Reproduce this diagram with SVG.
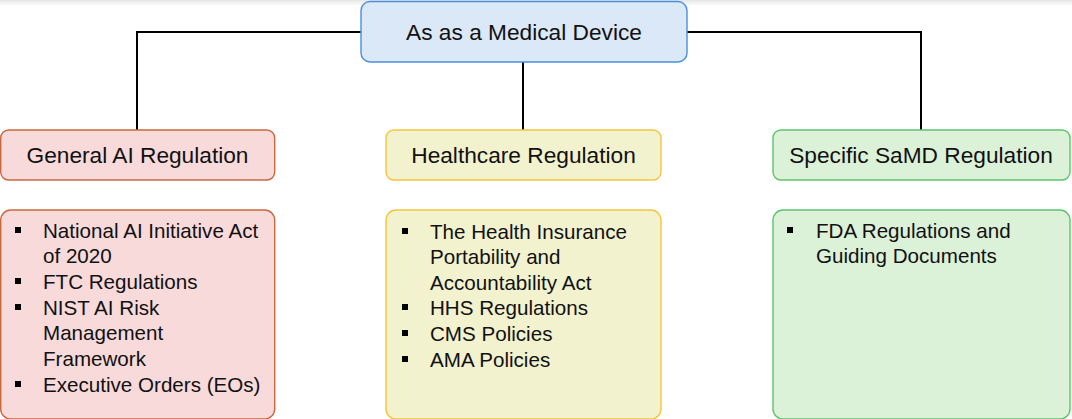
<svg xmlns="http://www.w3.org/2000/svg" width="1072" height="419" viewBox="0 0 1072 419">
<defs>
<linearGradient id="shade" x1="0" y1="0" x2="0" y2="1">
<stop offset="0" stop-color="#e6e6e6"/>
<stop offset="1" stop-color="#ffffff"/>
</linearGradient>
</defs>
<style>
text{font-family:"Liberation Sans",Arial,sans-serif;fill:#111;}
.hd{font-size:22.7px;text-anchor:middle;}
.it{font-size:20.6px;}
.blue{fill:#dae8f7;stroke:#4a8fdc;stroke-width:1.4;}
.red{fill:#f8dadb;stroke:#c9683e;stroke-width:1.4;}
.yel{fill:#f2f2cf;stroke:#f4c53e;stroke-width:1.4;}
.grn{fill:#dcf2d8;stroke:#5cc46c;stroke-width:1.4;}
.conn{fill:none;stroke:#000;stroke-width:2;}
.bul{fill:#000;}
</style>
<rect x="0" y="0" width="1072" height="419" fill="#fff"/>
<rect x="0" y="0" width="1072" height="6" fill="url(#shade)"/>
<g id="connectors">
<path class="conn" d="M361 32 H137 V130"/>
<path class="conn" d="M687 32 H921 V130"/>
<path class="conn" d="M523 62 V130"/>
</g>
<g id="root">
<rect class="blue" x="361" y="1.5" width="326" height="60.5" rx="9"/>
<text class="hd" x="524" y="40">As as a Medical Device</text>
</g>
<g id="general-ai">
<rect class="red" x="0.7" y="130" width="274" height="50" rx="8"/>
<text class="hd" x="137.5" y="163">General AI Regulation</text>
</g>
<g id="healthcare">
<rect class="yel" x="386" y="130" width="275" height="50" rx="8"/>
<text class="hd" x="523.5" y="163">Healthcare Regulation</text>
</g>
<g id="samd">
<rect class="grn" x="773" y="130" width="297" height="50" rx="8"/>
<text class="hd" x="921" y="163">Specific SaMD Regulation</text>
</g>
<g id="general-ai-list">
<rect class="red" x="0.7" y="210" width="274" height="209" rx="10"/>
<rect class="bul" x="15" y="227" width="6" height="6"/>
<rect class="bul" x="15" y="278" width="6" height="6"/>
<rect class="bul" x="15" y="304" width="6" height="6"/>
<rect class="bul" x="15" y="381" width="6" height="6"/>
<text class="it" x="43" y="238">National AI Initiative Act</text>
<text class="it" x="43" y="263">of 2020</text>
<text class="it" x="43" y="289">FTC Regulations</text>
<text class="it" x="43" y="315">NIST AI Risk</text>
<text class="it" x="43" y="340">Management</text>
<text class="it" x="43" y="366">Framework</text>
<text class="it" x="43" y="392">Executive Orders (EOs)</text>
</g>
<g id="healthcare-list">
<rect class="yel" x="386" y="210" width="275" height="209" rx="10"/>
<rect class="bul" x="402" y="228" width="6" height="6"/>
<rect class="bul" x="402" y="304" width="6" height="6"/>
<rect class="bul" x="402" y="330" width="6" height="6"/>
<rect class="bul" x="402" y="356" width="6" height="6"/>
<text class="it" x="430" y="239">The Health Insurance</text>
<text class="it" x="430" y="264">Portability and</text>
<text class="it" x="430" y="290">Accountability Act</text>
<text class="it" x="430" y="315">HHS Regulations</text>
<text class="it" x="430" y="341">CMS Policies</text>
<text class="it" x="430" y="367">AMA Policies</text>
</g>
<g id="samd-list">
<rect class="grn" x="773" y="210" width="297" height="209" rx="10"/>
<rect class="bul" x="787" y="227" width="6" height="6"/>
<text class="it" x="816" y="238">FDA Regulations and</text>
<text class="it" x="816" y="263">Guiding Documents</text>
</g>
</svg>
